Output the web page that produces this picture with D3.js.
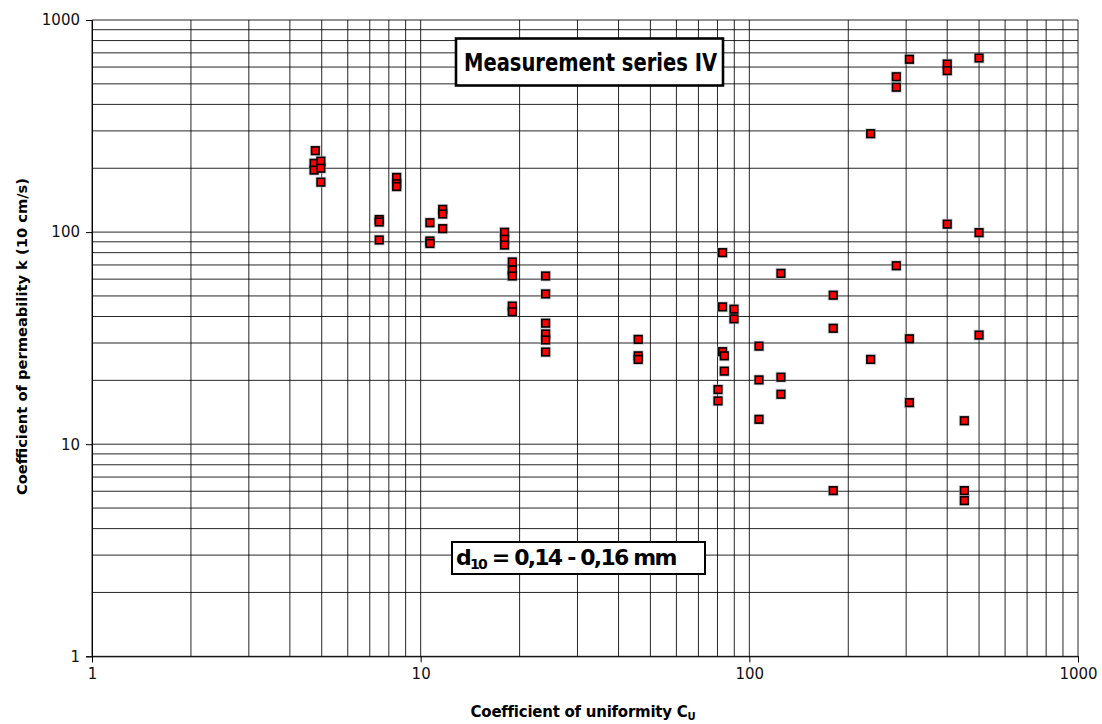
<!DOCTYPE html>
<html><head><meta charset="utf-8">
<script src="https://cdn.jsdelivr.net/npm/d3@7"></script>
<style>body{margin:0;background:#fff}</style>
</head><body>
<svg id="c" width="1102" height="724"></svg>
<script>
// Coefficient of uniformity Cu (x) and permeability k (y)
const cuValues = [4.78,4.74,4.74,4.97,4.97,4.97, 7.48,7.48,7.48, 8.45,8.45,8.45,
  10.67,10.67,10.67, 11.67,11.67,11.67, 18.0,18.0,18.0, 19.0,19.0,19.0,19.0,19.0,
  24.0,24.0,24.0,24.0,24.0,24.0, 45.9,45.9,45.9, 80.3,80.3, 82.9,82.9,82.9, 83.9,83.9,
  89.8,89.8, 107,107,107, 124.8,124.8,124.8, 180,180,180, 234,234, 280,280,280,
  307,307,307, 400,400,400, 451,451,451, 500,500,500];
const kValues = [242,211,196,216,200,172, 114.6,111.6,91.8, 181,169,164,
  110.7,90.8,88.4, 128,121.7,103.8, 99.8,92.5,86.9, 72.3,66.3,62.1,44.8,42.1,
  62.1,51.1,37.2,33.1,31.0,27.2, 31.2,26.1,25.1, 18.1,16.0, 80.0,44.4,27.3, 26.1,22.1,
  43.3,39.0, 29.0,20.1,13.1, 63.9,20.7,17.2, 50.4,35.2,6.04, 291,25.1, 540,482,69.4,
  653,31.4,15.7, 620,577,109, 12.9,6.04,5.42, 662,99.4,32.7];
const xTickLabels = [1,10,100,1000];
const yTickLabels = [1,10,100,1000];
const titleText = "Measurement series IV";
const xAxisTitle = "Coefficient of uniformity C";
const xAxisSub = "U";
const yAxisTitle = "Coefficient of permeability k (10 cm/s)";
const noteMain = "d";
const noteSub = "10";
const noteRest = " = 0,14 - 0,16 mm";

const svg = d3.select("#c");
const x = d3.scaleLog().domain([1,1000]).range([92,1078]);
const y = d3.scaleLog().domain([1,1000]).range([656.3,20]);

const grid = svg.append("g");
grid.selectAll("line.v").data(x.ticks()).join("line")
  .attr("x1", d=>x(d)).attr("x2", d=>x(d)).attr("y1", y(1000)).attr("y2", y(1))
  .attr("stroke","#000").attr("stroke-opacity",0.85).attr("stroke-width",1);
grid.selectAll("line.h").data(y.ticks()).join("line")
  .attr("y1", d=>y(d)).attr("y2", d=>y(d)).attr("x1", x(1)).attr("x2", x(1000))
  .attr("stroke","#000").attr("stroke-opacity",0.85).attr("stroke-width",1);

const font = "DejaVu Sans, sans-serif";
const yAxis = svg.append("g").attr("transform",`translate(${x(1)},0)`)
  .call(d3.axisLeft(y).tickValues(yTickLabels).tickFormat(d3.format("d")).tickSize(6).tickPadding(6));
const xAxis = svg.append("g").attr("transform",`translate(0,${y(1)})`)
  .call(d3.axisBottom(x).tickValues(xTickLabels).tickFormat(d3.format("d")).tickSize(6).tickPadding(6));
[yAxis,xAxis].forEach(a=>{
  a.select(".domain").attr("stroke","#000");
  a.selectAll(".tick line").attr("stroke","#000");
  a.selectAll("text").attr("font-family",font).attr("font-size",15).attr("fill","#111");
});

// markers
const pts = cuValues.map((c,i)=>({c, k:kValues[i]}));
const mk = svg.append("g");
mk.selectAll("rect.halo").data(pts).join("rect").attr("class","halo")
  .attr("x", d=>x(d.c)-5.5).attr("y", d=>y(d.k)-5.5).attr("width",11).attr("height",11)
  .attr("fill","#aaa").attr("opacity",0.5);
mk.selectAll("rect.m").data(pts).join("rect").attr("class","m")
  .attr("x", d=>x(d.c)-3.8).attr("y", d=>y(d.k)-3.8).attr("width",7.6).attr("height",7.6)
  .attr("fill","#ff0000").attr("stroke","#000").attr("stroke-width",1.6);

// title box
svg.append("rect").attr("x",456).attr("y",38.5).attr("width",267).attr("height",47)
  .attr("fill","#fff").attr("stroke","#000").attr("stroke-width",2.6);
svg.append("text").attr("x",464).attr("y",71).attr("font-family",font).attr("font-weight","bold")
  .attr("font-size",24).attr("textLength",253).attr("lengthAdjust","spacingAndGlyphs")
  .attr("fill","#000").text(titleText);

// d10 box
svg.append("rect").attr("x",452).attr("y",542).attr("width",253).attr("height",32)
  .attr("fill","#fff").attr("stroke","#000").attr("stroke-width",2);
const nt = svg.append("text").attr("x",456).attr("y",565).attr("font-family",font)
  .attr("font-weight","bold").attr("font-size",22).attr("fill","#000").attr("letter-spacing",-1.8);
nt.append("tspan").text(noteMain);
nt.append("tspan").attr("font-size",14).attr("dy",4).text(noteSub);
nt.append("tspan").attr("dy",-4).text(noteRest);

// axis titles
const xt = svg.append("text").attr("x",583).attr("y",717).attr("text-anchor","middle")
  .attr("font-family",font).attr("font-weight","bold").attr("font-size",15)
  .attr("letter-spacing",-0.25).attr("fill","#000");
xt.append("tspan").text(xAxisTitle);
xt.append("tspan").attr("font-size",10).attr("dy",3).text(xAxisSub);

svg.append("text").attr("transform","translate(27,336.5) rotate(-90)").attr("text-anchor","middle")
  .attr("font-family",font).attr("font-weight","bold").attr("font-size",14)
  .attr("textLength",317).attr("lengthAdjust","spacingAndGlyphs")
  .attr("fill","#000").text(yAxisTitle);
</script>
</body></html>
